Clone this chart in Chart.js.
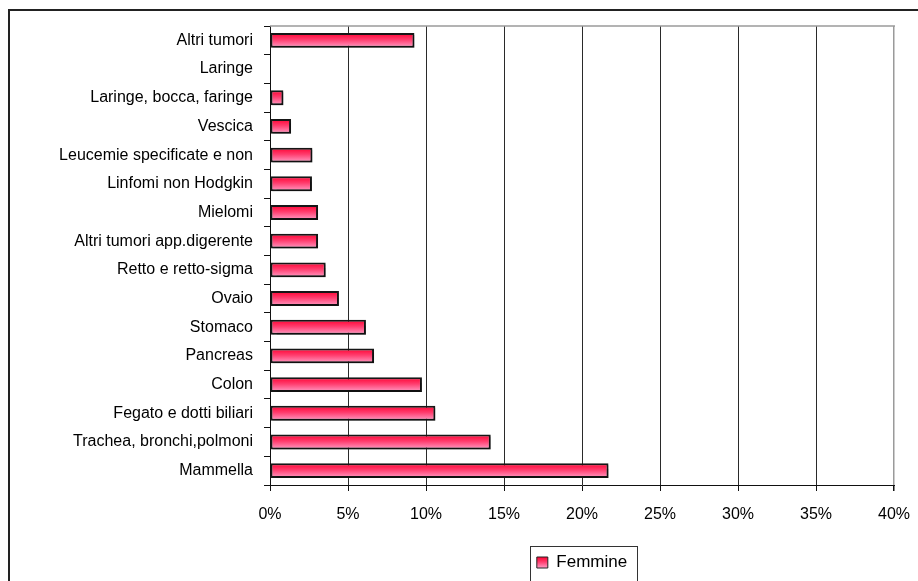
<!DOCTYPE html>
<html>
<head>
<meta charset="utf-8">
<script src="https://cdn.jsdelivr.net/npm/chart.js@4/dist/chart.umd.min.js"></script>
<style>
  html, body { margin: 0; padding: 0; background: #fff; }
  #wrap { width: 918px; height: 581px; position: relative; }
</style>
</head>
<body>
<div id="wrap"><canvas id="c" width="918" height="581"></canvas></div>
<script>
// Share of deaths by tumour site, women
const categories = [
  'Altri tumori',
  'Laringe',
  'Laringe, bocca, faringe',
  'Vescica',
  'Leucemie specificate e non',
  'Linfomi non Hodgkin',
  'Mielomi',
  'Altri tumori app.digerente',
  'Retto e retto-sigma',
  'Ovaio',
  'Stomaco',
  'Pancreas',
  'Colon',
  'Fegato e dotti biliari',
  'Trachea, bronchi,polmoni',
  'Mammella'
];
const femmine = [9.26, 0, 0.86, 1.35, 2.72, 2.69, 3.08, 3.08, 3.57, 4.42, 6.15, 6.67, 9.74, 10.6, 14.15, 21.7];
const seriesName = 'Femmine';
const xMin = 0, xMax = 40, xStep = 5;

const FONT = { family: '"Liberation Sans", Arial, sans-serif', size: 16 };
const LEGEND_FONT = { family: '"Liberation Sans", Arial, sans-serif', size: 17 };
const BAR_PCT = 0.52;

function barGradient(ctx, top, bottom) {
  const g = ctx.createLinearGradient(0, top, 0, bottom);
  g.addColorStop(0, '#ff0030');
  g.addColorStop(0.45, '#ff3d6e');
  g.addColorStop(1, '#ff9ec8');
  return g;
}

// Paints the outer frame, the plot's top edge, the bar shadows and the legend frame
const decor = {
  id: 'decor',
  beforeDraw(chart) {
    const ctx = chart.ctx;
    ctx.save();
    ctx.strokeStyle = '#222';
    ctx.lineWidth = 2;
    ctx.strokeRect(9, 10, 1000, 1000);
    ctx.restore();
    // legend marker gradient, placed once the legend has its position
    const lg = chart.legend;
    if (lg && lg.legendItems && lg.legendItems.length) {
      const bh = lg.options.labels.boxHeight;
      const top = lg.top + lg.options.labels.padding + Math.max((LEGEND_FONT.size - bh) / 2, 0);
      lg.legendItems[0].fillStyle = barGradient(ctx, top, top + bh);
    }
  },
  beforeDatasetsDraw(chart) {
    const { ctx, chartArea } = chart;
    ctx.save();
    ctx.strokeStyle = '#9a9a9a';
    ctx.lineWidth = 1.5;
    ctx.beginPath();
    ctx.moveTo(chartArea.left, chartArea.top);
    ctx.lineTo(chartArea.right + 1, chartArea.top);
    ctx.stroke();
    ctx.restore();
    ctx.save();
    ctx.shadowColor = 'rgba(0,0,0,0.28)';
    ctx.shadowOffsetX = 2;
    ctx.shadowOffsetY = 2;
    ctx.shadowBlur = 1;
  },
  afterDatasetsDraw(chart) {
    chart.ctx.restore();
  },
  afterDraw(chart) {
    const lg = chart.legend;
    if (!lg || !lg.legendHitBoxes || !lg.legendHitBoxes.length) return;
    const hb = lg.legendHitBoxes[0];
    const ctx = chart.ctx;
    ctx.save();
    ctx.strokeStyle = '#333';
    ctx.lineWidth = 1;
    const l = Math.round(hb.left - 7) + 0.5;
    const r = Math.round(hb.left + hb.width + 10) + 0.5;
    const t = Math.round(hb.top - 8) + 0.5;
    ctx.strokeRect(l, t, r - l, 100);
    ctx.restore();
  }
};

new Chart(document.getElementById('c'), {
  type: 'bar',
  data: {
    labels: categories,
    datasets: [{
      label: seriesName,
      data: femmine,
      backgroundColor(context) {
        const chart = context.chart;
        const y = chart.scales && chart.scales.y;
        if (!chart.chartArea || !y) return '#ff4d7a';
        const step = y.getPixelForValue(1) - y.getPixelForValue(0);
        const c = y.getPixelForValue(context.dataIndex);
        const h = step * BAR_PCT;
        return barGradient(chart.ctx, c - h / 2, c + h / 2);
      },
      borderColor: '#161616',
      borderWidth: 2,
      borderSkipped: false,
      barPercentage: BAR_PCT,
      categoryPercentage: 1
    }]
  },
  options: {
    indexAxis: 'y',
    responsive: false,
    animation: false,
    devicePixelRatio: 1,
    layout: { padding: { top: 26, right: 24, left: 10, bottom: 0 } },
    scales: {
      x: {
        min: xMin,
        max: xMax,
        ticks: {
          stepSize: xStep,
          callback: v => v + '%',
          font: FONT,
          color: '#000',
          padding: 14,
          maxRotation: 0
        },
        grid: {
          color: c => (c.tick && c.tick.value === xMax) ? '#9a9a9a' : '#2a2a2a',
          lineWidth: c => (c.tick && c.tick.value === xMax) ? 1.5 : 1,
          tickColor: '#111',
          tickLength: 6
        },
        border: { color: '#111', width: 1 },
        afterFit(s) { s.height = 69; s.paddingLeft = 0; s.paddingRight = 0; }
      },
      y: {
        ticks: { font: FONT, color: '#000', padding: 11, autoSkip: false },
        grid: {
          offset: true,
          drawOnChartArea: false,
          drawTicks: true,
          tickLength: 6,
          color: '#111',
          tickColor: '#111'
        },
        border: { color: '#111', width: 1 },
        afterFit(s) { s.width = 260; }
      }
    },
    plugins: {
      legend: {
        position: 'bottom',
        fullSize: false,
        labels: {
          font: LEGEND_FONT,
          color: '#000',
          boxWidth: 11,
          boxHeight: 11,
          padding: 0,
          generateLabels(chart) {
            const items = Chart.defaults.plugins.legend.labels.generateLabels(chart);
            items.forEach(it => { it.lineWidth = 1; it.strokeStyle = '#222'; it.fillStyle = '#ff4d7a'; });
            return items;
          }
        }
      },
      tooltip: { enabled: false }
    }
  },
  plugins: [decor]
});
</script>
</body>
</html>
